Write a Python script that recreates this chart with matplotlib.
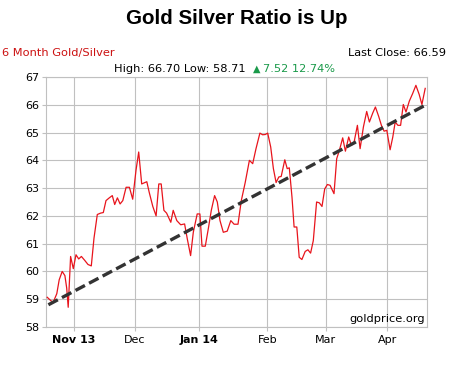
import matplotlib.pyplot as plt

# trading-day index (0 = start of 6-month window) and gold/silver ratio readings
days = [0.4, 1.6, 2.4, 3.6, 4.4, 5.4, 6.3, 6.9, 7.4, 8.2, 9.1, 10.0, 10.9, 11.8,
        12.9, 14.0, 15.1, 16.0, 17.1, 18.2, 19.1, 20.0, 21.1, 22.1, 22.9, 23.8,
        24.7, 25.6, 26.7, 27.8, 28.9, 30.0, 30.9, 31.9, 33.6, 34.4, 35.6, 36.7,
        37.6, 38.4, 39.3, 40.2, 41.6, 42.4, 43.6, 44.9, 46.2, 47.1, 48.2, 49.1,
        50.4, 51.3, 52.0, 53.1, 54.2, 55.1, 56.2, 57.1, 58.0, 59.1, 60.4, 61.6,
        62.7, 64.0, 65.1, 66.4, 67.8, 68.9, 70.0, 71.3, 72.2, 73.1, 73.9, 74.9,
        75.8, 76.7, 77.6, 78.4, 79.6, 80.4, 81.1, 82.0, 82.7, 83.6, 84.4, 85.3,
        86.4, 87.3, 88.2, 89.1, 90.2, 91.1, 92.0, 92.9, 93.8, 94.7, 96.0, 96.9,
        97.8, 98.9, 99.8, 100.9, 101.8, 102.7, 103.8, 104.7, 105.8, 106.9, 107.8,
        108.9, 109.8, 110.9, 111.8, 112.7, 113.6, 114.7, 115.6, 116.4, 117.3,
        118.2, 119.1, 120.0, 121.1, 122.2, 123.3, 124.4, 125.3, 126.4]
ratio = [59.07, 58.95, 58.89, 59.20, 59.70, 60.00, 59.85, 59.40, 58.71, 60.54,
         60.10, 60.60, 60.45, 60.54, 60.40, 60.25, 60.20, 61.20, 62.05, 62.10,
         62.12, 62.55, 62.65, 62.73, 62.41, 62.65, 62.43, 62.55, 63.03, 63.03,
         62.60, 63.64, 64.30, 63.15, 63.23, 62.85, 62.34, 62.00, 63.15, 63.15,
         62.20, 62.10, 61.77, 62.20, 61.83, 61.68, 61.71, 61.17, 60.57, 61.41,
         62.07, 62.07, 60.91, 60.91, 61.60, 62.20, 62.73, 62.50, 61.83, 61.41,
         61.45, 61.83, 61.70, 61.70, 62.55, 63.20, 64.00, 63.88, 64.42, 64.98,
         64.92, 64.93, 64.98, 64.48, 63.70, 63.20, 63.40, 63.42, 64.02, 63.70,
         63.73, 62.67, 61.60, 61.60, 60.51, 60.43, 60.72, 60.78, 60.66, 61.11,
         62.50, 62.47, 62.34, 62.97, 63.13, 63.10, 62.80, 64.06, 64.36, 64.81,
         64.33, 64.84, 64.54, 64.66, 65.26, 64.42, 65.20, 65.76, 65.38, 65.70,
         65.92, 65.58, 65.26, 65.05, 65.08, 64.38, 64.84, 65.38, 65.26, 65.26,
         66.01, 65.74, 66.13, 66.40, 66.70, 66.37, 66.01, 66.59]

trend_days = [0.8, 126.7]
trend_vals = [58.8, 66.0]

month_pos = [9.3, 29.7, 51.1, 73.8, 93.2, 113.8]
month_labels = ['Nov 13', 'Dec', 'Jan 14', 'Feb', 'Mar', 'Apr']
bold_labels = ['Nov 13', 'Jan 14']
y_ticks = [58, 59, 60, 61, 62, 63, 64, 65, 66, 67]

W, H = 471, 377
fig = plt.figure(figsize=(W / 100, H / 100), dpi=100)
fig.patch.set_facecolor('white')
ax = fig.add_axes([46 / W, 1 - 327 / H, 381 / W, 250 / H])

grid_col = '#c0c0c0'
ax.plot(days, ratio, color='#e8141c', linewidth=0.9, zorder=3)
ax.plot(trend_days, trend_vals, color='#333333', linewidth=2.4,
        dashes=(3.2, 1.4), zorder=4)

ax.set_xlim(0, 127)
ax.set_ylim(58, 67)
ax.set_yticks(y_ticks)
ax.set_xticks(month_pos)
ax.set_xticklabels(month_labels)
for lbl in ax.get_xticklabels():
    if lbl.get_text() in bold_labels:
        lbl.set_fontweight('bold')
ax.grid(True, color=grid_col, linewidth=0.8)
ax.set_axisbelow(True)
for sp in ax.spines.values():
    sp.set_color(grid_col)
    sp.set_linewidth(0.8)
ax.tick_params(axis='both', colors=grid_col, length=3, width=0.8,
               labelcolor='black', labelsize=8, pad=2)
ax.tick_params(axis='x', pad=3)

ax.text(0.995, 0.01, 'goldprice.org', transform=ax.transAxes, ha='right',
        va='bottom', fontsize=8.2, color='black')


def fx(px):
    return px / W


def fy(py):
    return 1 - py / H


fig.text(fx(237), fy(19), 'Gold Silver Ratio is Up', ha='center', va='center',
         fontsize=14.8, fontweight='bold', family='Liberation Sans')
fig.text(fx(2), fy(53), '6 Month Gold/Silver', ha='left', va='center',
         fontsize=8.2, color='#cc1111')
fig.text(fx(446), fy(53), 'Last Close: 66.59', ha='right', va='center',
         fontsize=8.2, color='black')
fig.text(fx(246), fy(69), 'High: 66.70 Low: 58.71', ha='right', va='center',
         fontsize=8.2, color='black')
fig.text(fx(257), fy(69), '\u25b2', ha='center', va='center', fontsize=7,
         color='#1a9a4a')
fig.text(fx(263), fy(69), '7.52 12.74%', ha='left', va='center',
         fontsize=8.2, color='#1a9a4a')

fig.savefig('out.png', dpi=100, facecolor='white')
